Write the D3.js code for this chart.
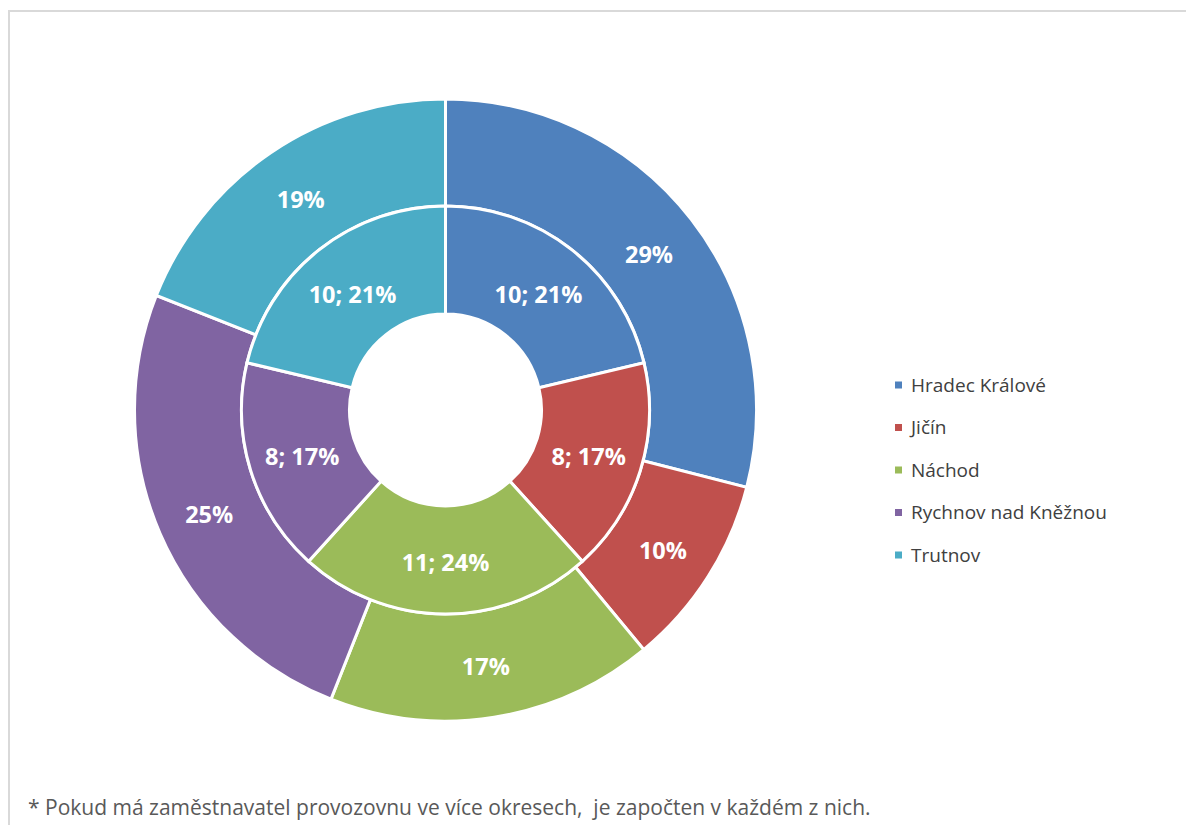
<!DOCTYPE html>
<html><head><meta charset="utf-8">
<script src="https://cdn.jsdelivr.net/npm/d3@7"></script>
<style>
html,body{margin:0;padding:0;background:#fff;}
svg{display:block;}
</style></head>
<body>
<svg id="c" width="1186" height="825"></svg>
<script>
const categories = ["Hradec Králové", "Jičín", "Náchod", "Rychnov nad Kněžnou", "Trutnov"];
const colors = ["#4F81BD", "#C0504D", "#9BBB59", "#8064A2", "#4BACC6"];
const outerValues = [29, 10, 17, 25, 19];
const outerLabels = ["29%", "10%", "17%", "25%", "19%"];
const innerValues = [10, 8, 11, 8, 10];
const innerLabels = ["10; 21%", "8; 17%", "11; 24%", "8; 17%", "10; 21%"];
const footnote = "* Pokud má zaměstnavatel provozovnu ve více okresech,  je započten v každém z nich.";

const svg = d3.select("#c");
const font = "'Open Sans', sans-serif";

// frame
svg.append("path").attr("d", "M9,825 V11 H1186").attr("fill", "none")
  .attr("stroke", "#d9d9d9").attr("stroke-width", 2);

const cx = 445.5, cy = 410;
const rOuter = 311, rMid = 204, rHole = 96;
const g = svg.append("g").attr("transform", `translate(${cx},${cy})`);
const pie = d3.pie().sort(null).value(d => d);

function ring(values, labels, r0, r1) {
  const arcs = pie(values);
  const arc = d3.arc().innerRadius(r0).outerRadius(r1);
  const rg = g.append("g");
  rg.selectAll("path").data(arcs).join("path")
    .attr("d", arc).attr("fill", (d, i) => colors[i])
    .attr("stroke", "#fff").attr("stroke-width", 3).attr("stroke-linejoin", "miter");
  rg.selectAll("text").data(arcs).join("text")
    .attr("transform", d => `translate(${arc.centroid(d)})`)
    .attr("text-anchor", "middle").attr("dy", "0.46em")
    .attr("font-family", font).attr("font-weight", "bold").attr("font-size", 23.5)
    .attr("fill", "#fff").text((d, i) => labels[i]);
}
ring(outerValues, outerLabels, rMid, rOuter);
ring(innerValues, innerLabels, rHole, rMid);

// legend
const ly = d3.scalePoint().domain(categories).range([385, 555]);
const lg = svg.append("g");
lg.selectAll("rect").data(categories).join("rect")
  .attr("x", 895).attr("y", d => ly(d) - 3.5).attr("width", 7).attr("height", 7)
  .attr("fill", (d, i) => colors[i]);
lg.selectAll("text").data(categories).join("text")
  .attr("x", 911).attr("y", d => ly(d)).attr("dy", "0.36em")
  .attr("font-family", font).attr("font-size", 19).attr("fill", "#404040")
  .text(d => d);

svg.append("text").attr("x", 28).attr("y", 815)
  .style("white-space", "pre")
  .attr("font-family", font).attr("font-size", 21).attr("fill", "#595959")
  .text(footnote);
</script>
</body></html>
